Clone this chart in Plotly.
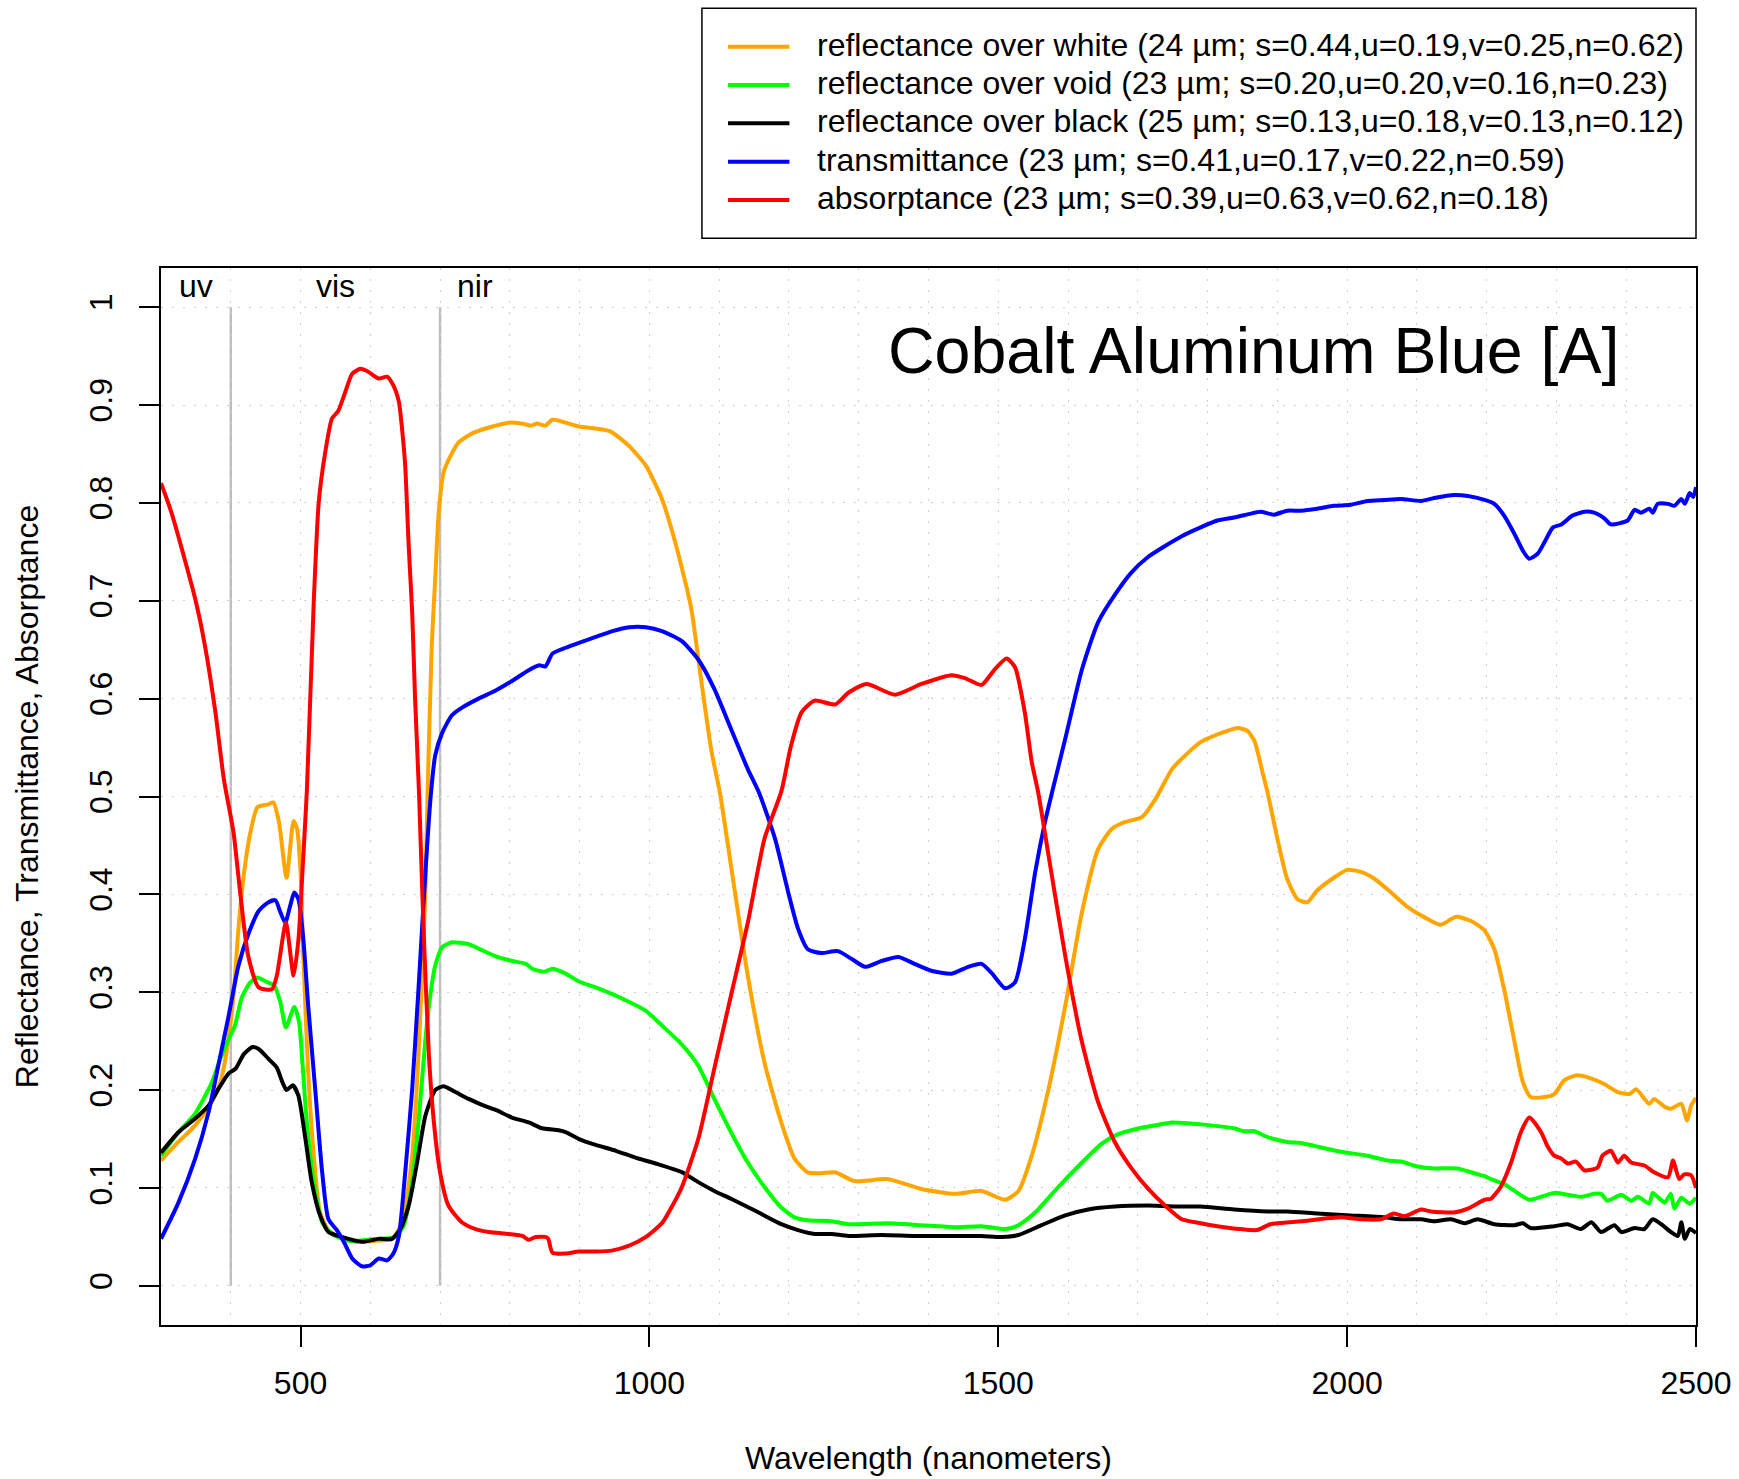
import plotly.graph_objects as go

# ---------------- data ----------------
series_names = [
    "reflectance over white (24 µm; s=0.44,u=0.19,v=0.25,n=0.62)",
    "reflectance over void (23 µm; s=0.20,u=0.20,v=0.16,n=0.23)",
    "reflectance over black (25 µm; s=0.13,u=0.18,v=0.13,n=0.12)",
    "transmittance (23 µm; s=0.41,u=0.17,v=0.22,n=0.59)",
    "absorptance (23 µm; s=0.39,u=0.63,v=0.62,n=0.18)",
]
series_colors = ["#FFA500", "#00FF00", "#000000", "#0000FF", "#FF0000"]

white_wl = [300, 325, 349, 373, 385, 394, 404, 411, 418, 428, 438, 447, 454, 461, 469, 480, 490, 495, 500, 504,
            511, 519, 528, 540, 555, 578, 607, 631, 641, 650, 660, 669, 679, 682, 688, 693, 698, 705, 715, 727,
            746, 770, 798, 818, 830, 839, 851, 861, 880, 899, 923, 944, 971, 995, 1018, 1033, 1046, 1060, 1074,
            1089, 1101, 1117, 1141, 1165, 1189, 1208, 1227, 1246, 1266, 1294, 1342, 1390, 1438, 1476, 1510, 1529,
            1548, 1572, 1596, 1620, 1643, 1663, 1682, 1706, 1725, 1749, 1768, 1791, 1809, 1824, 1843, 1857, 1867,
            1879, 1886, 1900, 1914, 1929, 1943, 1957, 1981, 2000, 2020, 2039, 2063, 2087, 2110, 2134, 2156, 2177,
            2197, 2211, 2225, 2240, 2252, 2263, 2283, 2297, 2311, 2328, 2345, 2369, 2388, 2405, 2414, 2433, 2440,
            2455, 2464, 2479, 2487, 2493, 2500]
white_val = [0.128, 0.147, 0.164, 0.188, 0.208, 0.239, 0.297, 0.365, 0.416, 0.463, 0.489, 0.491, 0.492, 0.494,
             0.474, 0.417, 0.475, 0.467, 0.423, 0.337, 0.218, 0.133, 0.075, 0.057, 0.050, 0.045, 0.046, 0.048,
             0.058, 0.082, 0.133, 0.235, 0.405, 0.500, 0.654, 0.722, 0.790, 0.831, 0.848, 0.862, 0.871, 0.877,
             0.882, 0.881, 0.879, 0.881, 0.879, 0.885, 0.882, 0.878, 0.876, 0.873, 0.858, 0.838, 0.804, 0.770,
             0.735, 0.692, 0.620, 0.546, 0.504, 0.429, 0.317, 0.228, 0.167, 0.130, 0.116, 0.115, 0.116, 0.107,
             0.109, 0.099, 0.094, 0.097, 0.088, 0.097, 0.133, 0.201, 0.286, 0.382, 0.446, 0.467, 0.474, 0.479,
             0.497, 0.528, 0.542, 0.556, 0.562, 0.566, 0.570, 0.567, 0.557, 0.524, 0.504, 0.457, 0.416, 0.395,
             0.392, 0.404, 0.417, 0.425, 0.423, 0.416, 0.402, 0.387, 0.377, 0.369, 0.377, 0.373, 0.363, 0.344,
             0.303, 0.249, 0.208, 0.193, 0.193, 0.196, 0.210, 0.215, 0.213, 0.206, 0.198, 0.196, 0.201, 0.186,
             0.191, 0.183, 0.181, 0.186, 0.169, 0.184, 0.192]

void_wl = [300, 325, 349, 373, 385, 397, 406, 416, 428, 438, 450, 462, 471, 479, 491, 498, 502, 509, 519, 531,
           545, 569, 607, 636, 648, 660, 669, 679, 686, 693, 703, 717, 741, 760, 779, 803, 823, 832, 849, 861,
           880, 899, 923, 947, 971, 995, 1018, 1046, 1070, 1093, 1117, 1141, 1165, 1189, 1208, 1227, 1261, 1285,
           1342, 1390, 1438, 1476, 1510, 1529, 1553, 1586, 1620, 1648, 1672, 1696, 1725, 1749, 1790, 1838, 1852,
           1867, 1886, 1914, 1934, 1953, 1991, 2029, 2058, 2077, 2101, 2125, 2158, 2187, 2197, 2206, 2225, 2240,
           2261, 2278, 2297, 2316, 2335, 2354, 2364, 2373, 2393, 2407, 2417, 2433, 2438, 2455, 2464, 2469, 2479,
           2491, 2500]
void_val = [0.133, 0.157, 0.176, 0.208, 0.232, 0.252, 0.266, 0.295, 0.310, 0.315, 0.311, 0.307, 0.290, 0.264,
            0.285, 0.269, 0.235, 0.167, 0.106, 0.065, 0.053, 0.046, 0.048, 0.050, 0.062, 0.106, 0.167, 0.252,
            0.297, 0.327, 0.346, 0.351, 0.349, 0.343, 0.337, 0.332, 0.329, 0.324, 0.321, 0.324, 0.319, 0.311,
            0.305, 0.298, 0.290, 0.281, 0.266, 0.247, 0.225, 0.191, 0.157, 0.126, 0.101, 0.080, 0.070, 0.067,
            0.066, 0.063, 0.064, 0.062, 0.060, 0.061, 0.058, 0.062, 0.075, 0.101, 0.126, 0.145, 0.155, 0.160,
            0.164, 0.167, 0.165, 0.161, 0.158, 0.158, 0.152, 0.147, 0.146, 0.143, 0.137, 0.133, 0.128, 0.127,
            0.122, 0.120, 0.120, 0.114, 0.112, 0.109, 0.104, 0.097, 0.088, 0.091, 0.095, 0.093, 0.091, 0.094,
            0.094, 0.087, 0.093, 0.087, 0.091, 0.084, 0.095, 0.085, 0.094, 0.079, 0.090, 0.084, 0.090]

black_wl = [300, 325, 349, 368, 383, 397, 407, 419, 431, 440, 454, 466, 473, 480, 489, 497, 507, 516, 528, 540,
            559, 588, 612, 631, 643, 655, 667, 679, 693, 705, 722, 741, 760, 779, 803, 827, 846, 870, 880, 899,
            923, 952, 980, 1009, 1047, 1070, 1093, 1117, 1151, 1189, 1213, 1237, 1261, 1285, 1333, 1380, 1428,
            1476, 1505, 1529, 1562, 1596, 1629, 1667, 1715, 1763, 1790, 1838, 1886, 1914, 1957, 2005, 2053, 2077,
            2106, 2125, 2149, 2168, 2187, 2211, 2240, 2252, 2263, 2297, 2316, 2335, 2350, 2364, 2383, 2393, 2412,
            2426, 2438, 2450, 2464, 2474, 2479, 2484, 2491, 2500]
black_val = [0.136, 0.157, 0.171, 0.184, 0.202, 0.217, 0.222, 0.237, 0.244, 0.242, 0.232, 0.223, 0.210, 0.200,
             0.205, 0.194, 0.150, 0.106, 0.072, 0.055, 0.050, 0.045, 0.048, 0.048, 0.058, 0.082, 0.126, 0.174,
             0.200, 0.204, 0.198, 0.191, 0.185, 0.180, 0.172, 0.167, 0.161, 0.159, 0.157, 0.150, 0.144, 0.138,
             0.131, 0.125, 0.116, 0.106, 0.097, 0.089, 0.077, 0.063, 0.057, 0.053, 0.053, 0.051, 0.052, 0.051,
             0.051, 0.051, 0.050, 0.052, 0.062, 0.072, 0.078, 0.081, 0.082, 0.081, 0.081, 0.078, 0.076, 0.076,
             0.074, 0.072, 0.070, 0.068, 0.068, 0.066, 0.068, 0.064, 0.068, 0.063, 0.062, 0.064, 0.059, 0.061,
             0.063, 0.058, 0.065, 0.055, 0.062, 0.055, 0.059, 0.058, 0.068, 0.063, 0.055, 0.051, 0.065, 0.048,
             0.058, 0.054]

trans_wl = [300, 325, 349, 368, 383, 397, 411, 426, 440, 454, 464, 471, 478, 485, 491, 497, 504, 511, 521, 531,
            540, 552, 562, 574, 588, 600, 612, 624, 633, 641, 650, 660, 669, 679, 687, 693, 703, 717, 732, 755,
            779, 803, 827, 842, 851, 861, 880, 899, 923, 947, 971, 995, 1018, 1046, 1070, 1093, 1117, 1141, 1157,
            1180, 1199, 1213, 1227, 1246, 1270, 1290, 1309, 1333, 1357, 1380, 1404, 1433, 1457, 1476, 1490, 1510,
            1524, 1538, 1553, 1567, 1577, 1596, 1620, 1643, 1667, 1691, 1715, 1739, 1763, 1790, 1814, 1838, 1862,
            1876, 1895, 1914, 1934, 1957, 1981, 2005, 2029, 2053, 2077, 2106, 2125, 2154, 2173, 2197, 2211, 2225,
            2240, 2252, 2261, 2273, 2283, 2295, 2307, 2323, 2340, 2354, 2369, 2378, 2402, 2412, 2421, 2433, 2438,
            2445, 2460, 2469, 2479, 2484, 2491, 2496, 2500]
trans_val = [0.048, 0.085, 0.130, 0.177, 0.228, 0.276, 0.327, 0.361, 0.383, 0.392, 0.394, 0.382, 0.371, 0.388,
             0.402, 0.395, 0.354, 0.286, 0.201, 0.116, 0.068, 0.057, 0.045, 0.028, 0.020, 0.021, 0.028, 0.026,
             0.033, 0.051, 0.116, 0.201, 0.303, 0.423, 0.504, 0.542, 0.565, 0.583, 0.591, 0.600, 0.608, 0.618,
             0.629, 0.634, 0.633, 0.646, 0.652, 0.657, 0.663, 0.669, 0.673, 0.673, 0.669, 0.659, 0.640, 0.610,
             0.569, 0.528, 0.504, 0.457, 0.402, 0.365, 0.344, 0.340, 0.342, 0.334, 0.326, 0.332, 0.336, 0.329,
             0.322, 0.319, 0.326, 0.329, 0.320, 0.304, 0.310, 0.354, 0.423, 0.474, 0.504, 0.559, 0.630, 0.678,
             0.706, 0.729, 0.745, 0.756, 0.766, 0.775, 0.782, 0.785, 0.789, 0.791, 0.788, 0.792, 0.792, 0.794,
             0.797, 0.798, 0.802, 0.803, 0.804, 0.802, 0.805, 0.808, 0.807, 0.803, 0.799, 0.787, 0.768, 0.751,
             0.743, 0.748, 0.760, 0.775, 0.778, 0.787, 0.791, 0.790, 0.784, 0.778, 0.782, 0.793, 0.790, 0.794,
             0.790, 0.799, 0.799, 0.797, 0.804, 0.799, 0.810, 0.806, 0.816]

absorb_wl = [300, 315, 349, 363, 378, 390, 404, 413, 425, 440, 459, 466, 479, 490, 497, 504, 509, 519, 526, 535,
             545, 554, 564, 574, 586, 597, 612, 624, 633, 641, 645, 650, 655, 660, 664, 670, 676, 684, 691, 700,
             712, 731, 751, 770, 798, 818, 827, 837, 851, 855, 861, 880, 899, 923, 946, 971, 995, 1019, 1033, 1046,
             1070, 1093, 1117, 1141, 1165, 1189, 1203, 1218, 1237, 1266, 1285, 1311, 1352, 1390, 1433, 1452, 1476,
             1495, 1512, 1524, 1538, 1548, 1557, 1572, 1596, 1619, 1643, 1667, 1691, 1715, 1739, 1763, 1790, 1814,
             1847, 1871, 1890, 1934, 1991, 2020, 2048, 2067, 2082, 2106, 2120, 2153, 2173, 2197, 2206, 2220, 2235,
             2249, 2261, 2278, 2287, 2297, 2307, 2316, 2328, 2340, 2359, 2366, 2378, 2388, 2397, 2407, 2426, 2440,
             2460, 2467, 2476, 2483, 2493, 2500]
absorb_val = [0.820, 0.790, 0.702, 0.654, 0.586, 0.518, 0.463, 0.405, 0.337, 0.305, 0.303, 0.317, 0.371, 0.317,
              0.354, 0.440, 0.505, 0.700, 0.800, 0.850, 0.886, 0.894, 0.913, 0.932, 0.937, 0.934, 0.927, 0.929,
              0.920, 0.903, 0.879, 0.838, 0.756, 0.688, 0.603, 0.500, 0.370, 0.235, 0.168, 0.116, 0.082, 0.065,
              0.058, 0.055, 0.053, 0.051, 0.047, 0.050, 0.050, 0.048, 0.034, 0.033, 0.035, 0.035, 0.036, 0.041,
              0.050, 0.065, 0.082, 0.100, 0.150, 0.222, 0.297, 0.371, 0.457, 0.505, 0.552, 0.586, 0.598, 0.594,
              0.606, 0.615, 0.604, 0.615, 0.624, 0.621, 0.614, 0.630, 0.641, 0.632, 0.586, 0.535, 0.505, 0.440,
              0.337, 0.252, 0.188, 0.147, 0.120, 0.099, 0.082, 0.068, 0.064, 0.061, 0.058, 0.057, 0.063, 0.066,
              0.070, 0.068, 0.068, 0.074, 0.071, 0.078, 0.076, 0.075, 0.079, 0.088, 0.089, 0.101, 0.126, 0.157,
              0.172, 0.157, 0.143, 0.133, 0.130, 0.125, 0.127, 0.118, 0.121, 0.133, 0.138, 0.126, 0.133, 0.126,
              0.123, 0.116, 0.111, 0.128, 0.109, 0.114, 0.113, 0.100]

x_tick_vals = [500, 1000, 1500, 2000, 2500]
y_tick_vals = [0, 0.1, 0.2, 0.3, 0.4, 0.5, 0.6, 0.7, 0.8, 0.9, 1]
y_tick_text = ["0", "0.1", "0.2", "0.3", "0.4", "0.5", "0.6", "0.7", "0.8", "0.9", "1"]
region_labels = ["uv", "vis", "nir"]
region_label_wl = [350, 550, 750]
region_bounds_wl = [400, 700]
chart_title = "Cobalt Aluminum Blue [A]"

# ---------------- figure ----------------
FONT = "Liberation Sans, Arial, Helvetica, sans-serif"
FS = 32

all_wl = [white_wl, void_wl, black_wl, trans_wl, absorb_wl]
all_val = [white_val, void_val, black_val, trans_val, absorb_val]

fig = go.Figure()
for wl, val, name, col in zip(all_wl, all_val, series_names, series_colors):
    fig.add_trace(go.Scatter(x=wl, y=val, mode="lines", name=name,
                             line=dict(color=col, width=4, shape="spline", smoothing=0.6),
                             showlegend=False))

grid_style = dict(showgrid=True, gridcolor="#cfcfcf", gridwidth=1.3, griddash="2px,9px")

fig.update_layout(
    width=1739, height=1479,
    margin=dict(l=161, r=43, t=268, b=154),
    paper_bgcolor="white", plot_bgcolor="white",
    font=dict(family=FONT, size=FS, color="black"),
    showlegend=False,
    xaxis=dict(range=[300, 2500], tickmode="array", tickvals=x_tick_vals, automargin=False,
               ticks="outside", ticklen=20, tickwidth=1.5, tickcolor="black",
               showline=True, linecolor="black", linewidth=2, mirror=True,
               zeroline=False, tickfont=dict(size=FS), ticklabelstandoff=9,
               minor=dict(tick0=300, dtick=100, ticks="", **grid_style),
               title=dict(text="Wavelength (nanometers)", font=dict(size=FS), standoff=46),
               **grid_style),
    yaxis=dict(range=[-0.04, 1.04], tickmode="array", tickvals=y_tick_vals, ticktext=y_tick_text,
               automargin=False,
               tickangle=-90, ticks="outside", ticklen=20, tickwidth=1.5, tickcolor="black",
               showline=True, linecolor="black", linewidth=2, mirror=True,
               zeroline=False, tickfont=dict(size=FS), ticklabelstandoff=14,
               title=dict(text="Reflectance, Transmittance, Absorptance", font=dict(size=FS), standoff=35),
               **grid_style),
)

# region boundaries (uv | vis | nir)
for b in region_bounds_wl:
    fig.add_shape(type="line", xref="x", yref="y", x0=b, x1=b, y0=0, y1=1,
                  line=dict(color="#bebebe", width=2.5), layer="below")
for lab, wl in zip(region_labels, region_label_wl):
    fig.add_annotation(x=wl, y=1.022, xref="x", yref="y", text=lab, showarrow=False,
                       font=dict(size=FS), xanchor="center", yanchor="middle")

fig.add_annotation(x=2393, y=0.955, xref="x", yref="y", text=chart_title, showarrow=False,
                   font=dict(size=64.5), xanchor="right", yanchor="middle")

# legend box drawn in paper coordinates
fig.add_shape(type="rect", xref="paper", yref="paper", x0=0.3524, x1=1.0, y0=1.0281, y1=1.2457,
              line=dict(color="black", width=1.5), fillcolor="white", layer="above")
legend_rows = [1.2094, 1.1731, 1.1369, 1.1006, 1.0643]
for name, col, ry in zip(series_names, series_colors, legend_rows):
    fig.add_shape(type="line", xref="paper", yref="paper", x0=0.3694, x1=0.4094, y0=ry, y1=ry,
                  line=dict(color=col, width=4))
    fig.add_annotation(x=0.4258, y=ry + 0.0018, xref="paper", yref="paper", text=name, showarrow=False,
                       font=dict(size=FS), xanchor="left", yanchor="middle")

fig.write_html("out.html")
